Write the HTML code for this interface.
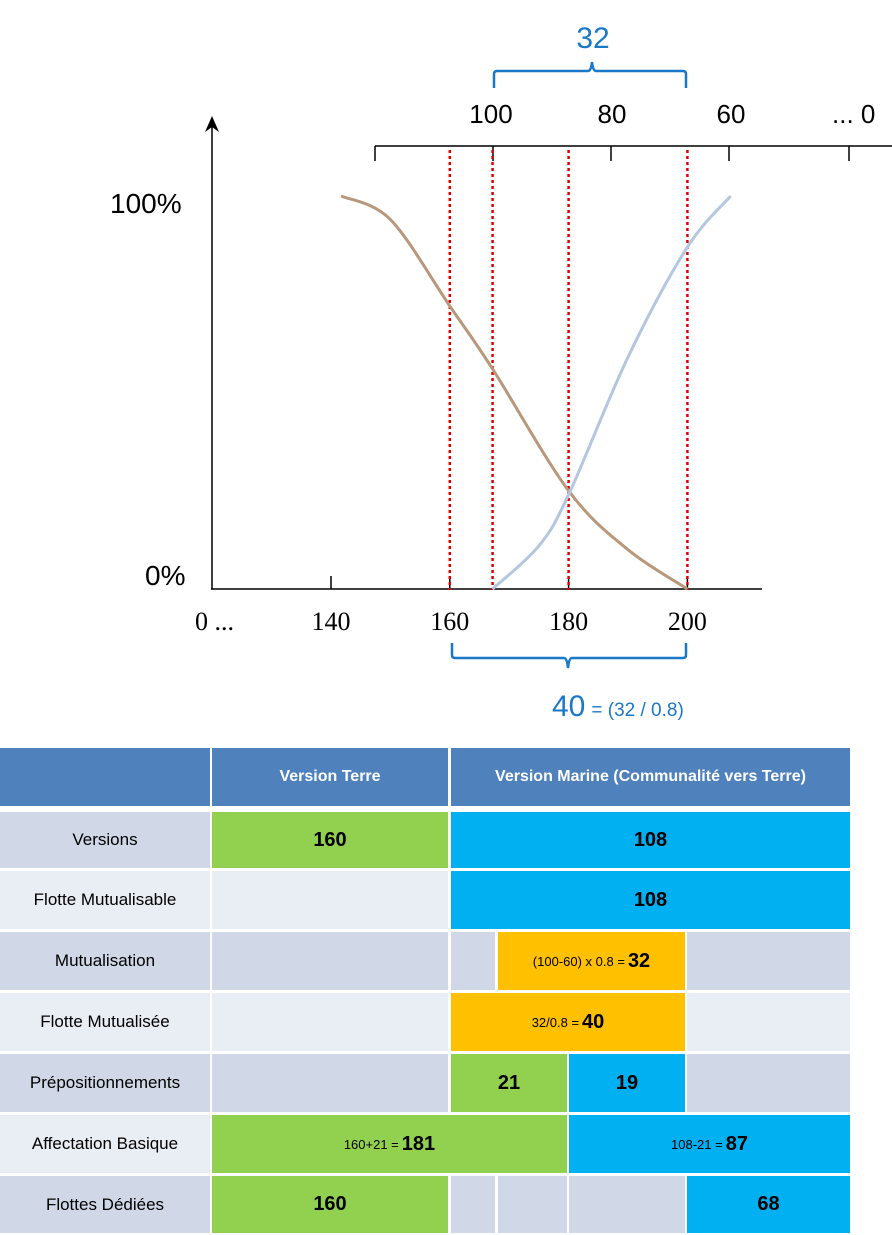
<!DOCTYPE html>
<html><head><meta charset="utf-8">
<style>
body{margin:0;width:892px;height:1235px;background:#fff;position:relative;overflow:hidden;font-family:"Liberation Sans",sans-serif}
.c{position:absolute;display:flex;align-items:center;justify-content:center;font-family:"Liberation Sans",sans-serif;color:#000;box-sizing:border-box}
.d{background:#d0d8e8}.l{background:#e9edf4}.g{background:#92d050}.b{background:#00b0f0}.o{background:#ffc000}.h{background:#4f81bd;color:#fff;font-weight:bold;font-size:16px}
.lab{font-size:17px}.big{font-weight:bold;font-size:20px}.sm{font-size:13px;margin-right:3px}
</style></head><body>
<svg id="chart" width="892" height="740" style="position:absolute;left:0;top:0" xmlns="http://www.w3.org/2000/svg"></svg>
<script>
const bottomTicks=[140,160,180,200];
const topTickLabels=["100","80","60","... 0"];
const topTickVals=[100,80,60,0];
const dottedLines=[160,167.2,180,200];
const brownX=[141.7,150,160,167.2,180,190,200];
const brownY=[100,94,72,56,25,10,0];
const blueX=[167.2,175,180,190,200,207.3];
const blueY=[0,11,24,59,87,100];
const NS="http://www.w3.org/2000/svg";
const svg=document.getElementById('chart');
const xs=v=>331+(v-140)*5.94;
const ys=p=>589-p*3.93;
const xt=v=>493+(100-v)*5.9; // top axis (100..60)
function mk(t,a,parent){const e=document.createElementNS(NS,t);for(const k in a)e.setAttribute(k,a[k]);(parent||svg).appendChild(e);return e;}
function txt(s,a){const e=mk('text',a);e.textContent=s;return e;}
let e;
e=mk('line',{x1:212,y1:589,x2:212,y2:122,stroke:'#000','stroke-width':1.5});


mk('path',{d:'M205,132 L212,116 L219,132 L212,127 Z',fill:'#000'});
e=mk('line',{x1:211,y1:589,x2:762,y2:589,stroke:'#000','stroke-width':1.5});


bottomTicks.forEach(v=>{
 e=mk('line',{x1:xs(v),y1:576,x2:xs(v),y2:589,stroke:'#000','stroke-width':1.5});
 
 
 e=txt(String(v),{x:xs(v),y:630,'text-anchor':'middle','font-family':'Liberation Serif, serif','font-size':26});
 
 
});
e=txt('0 ...',{x:195,y:630,'font-family':'Liberation Serif, serif','font-size':26});


e=mk('line',{x1:375,y1:146,x2:892,y2:146,stroke:'#000','stroke-width':1.5});


[375,493,611,729,849].forEach(x=>{mk('line',{x1:x,y1:146,x2:x,y2:161,stroke:'#000','stroke-width':1.5});});
const topLabelX=[491,612,731,832];
topTickLabels.forEach((s,i)=>{
 e=txt(s,{x:topLabelX[i],y:123,'text-anchor':i==3?'start':'middle','font-size':26});
 
 
});
e=txt('100%',{x:110,y:213,'font-size':28});


e=txt('0%',{x:145,y:585,'font-size':28});


dottedLines.forEach(v=>{
 e=mk('line',{x1:xs(v),y1:150,x2:xs(v),y2:590,stroke:'#e00000','stroke-width':2.5,'stroke-dasharray':'3,3'});
 
 
});
function smooth(X,Y){const p=X.map((x,i)=>[xs(x),ys(Y[i])]);let d='M'+p[0][0]+','+p[0][1];
 for(let i=0;i<p.length-1;i++){const p0=p[i-1]||p[i],p1=p[i],p2=p[i+1],p3=p[i+2]||p2;
 const c1=[p1[0]+(p2[0]-p0[0])/6,p1[1]+(p2[1]-p0[1])/6],c2=[p2[0]-(p3[0]-p1[0])/6,p2[1]-(p3[1]-p1[1])/6];
 d+=' C'+c1+' '+c2+' '+p2;}return d;}
e=mk('path',{d:smooth(brownX,brownY),fill:'none',stroke:'#b8977a','stroke-width':3});


e=mk('path',{d:smooth(blueX,blueY),fill:'none',stroke:'#b4c7e0','stroke-width':3});


e=mk('path',{d:'M494,88 L494,74 Q494,71 497,71 L588,71 Q591,71 592,62 Q593,71 596,71 L683,71 Q686,71 686,74 L686,88',fill:'none',stroke:'#1a78c8','stroke-width':2.5});


e=txt('32',{x:593,y:48,'text-anchor':'middle','font-size':30,fill:'#1a78c8'});


e=mk('path',{d:'M452,643 L452,655 Q452,658 455,658 L564,658 Q567,658 568,668 Q569,658 572,658 L683,658 Q686,658 686,655 L686,643',fill:'none',stroke:'#1a78c8','stroke-width':2.5});


e=mk('text',{x:552,y:716,fill:'#1a78c8','font-size':30});


e.innerHTML='40<tspan font-size="19" dx="6">= (32 / 0.8)</tspan>';
</script>
<div>
<div class="c h" style="left:0;top:748px;width:210px;height:58px"></div>
<div class="c h" style="left:212px;top:748px;width:236px;height:58px">Version Terre</div>
<div class="c h" style="left:451px;top:748px;width:399px;height:58px">Version Marine (Communalité vers Terre)</div>

<div class="c d lab" style="left:0;top:812px;width:210px;height:56px">Versions</div>
<div class="c g big" style="left:212px;top:812px;width:236px;height:56px">160</div>
<div class="c b big" style="left:451px;top:812px;width:399px;height:56px">108</div>

<div class="c l lab" style="left:0;top:871px;width:210px;height:58px">Flotte Mutualisable</div>
<div class="c l" style="left:212px;top:871px;width:236px;height:58px"></div>
<div class="c b big" style="left:451px;top:871px;width:399px;height:58px">108</div>

<div class="c d lab" style="left:0;top:932px;width:210px;height:58px">Mutualisation</div>
<div class="c d" style="left:212px;top:932px;width:236px;height:58px"></div>
<div class="c d" style="left:451px;top:932px;width:44px;height:58px"></div>
<div class="c o" style="left:498px;top:932px;width:187px;height:58px"><span class="sm">(100-60) x 0.8 =</span><span class="big">32</span></div>
<div class="c d" style="left:687px;top:932px;width:163px;height:58px"></div>

<div class="c l lab" style="left:0;top:993px;width:210px;height:58px">Flotte Mutualisée</div>
<div class="c l" style="left:212px;top:993px;width:236px;height:58px"></div>
<div class="c o" style="left:451px;top:993px;width:234px;height:58px"><span class="sm">32/0.8 =</span><span class="big">40</span></div>
<div class="c l" style="left:687px;top:993px;width:163px;height:58px"></div>

<div class="c d lab" style="left:0;top:1054px;width:210px;height:58px">Prépositionnements</div>
<div class="c d" style="left:212px;top:1054px;width:236px;height:58px"></div>
<div class="c g big" style="left:451px;top:1054px;width:116px;height:58px">21</div>
<div class="c b big" style="left:569px;top:1054px;width:116px;height:58px">19</div>
<div class="c d" style="left:687px;top:1054px;width:163px;height:58px"></div>

<div class="c l lab" style="left:0;top:1115px;width:210px;height:58px">Affectation Basique</div>
<div class="c g" style="left:212px;top:1115px;width:355px;height:58px"><span class="sm">160+21 =</span><span class="big">181</span></div>
<div class="c b" style="left:569px;top:1115px;width:281px;height:58px"><span class="sm">108-21 =</span><span class="big">87</span></div>

<div class="c d lab" style="left:0;top:1176px;width:210px;height:57px">Flottes Dédiées</div>
<div class="c g big" style="left:212px;top:1176px;width:236px;height:57px">160</div>
<div class="c d" style="left:451px;top:1176px;width:44px;height:57px"></div>
<div class="c d" style="left:498px;top:1176px;width:69px;height:57px"></div>
<div class="c d" style="left:569px;top:1176px;width:116px;height:57px"></div>
<div class="c b big" style="left:687px;top:1176px;width:163px;height:57px">68</div>
</div>
</body></html>
